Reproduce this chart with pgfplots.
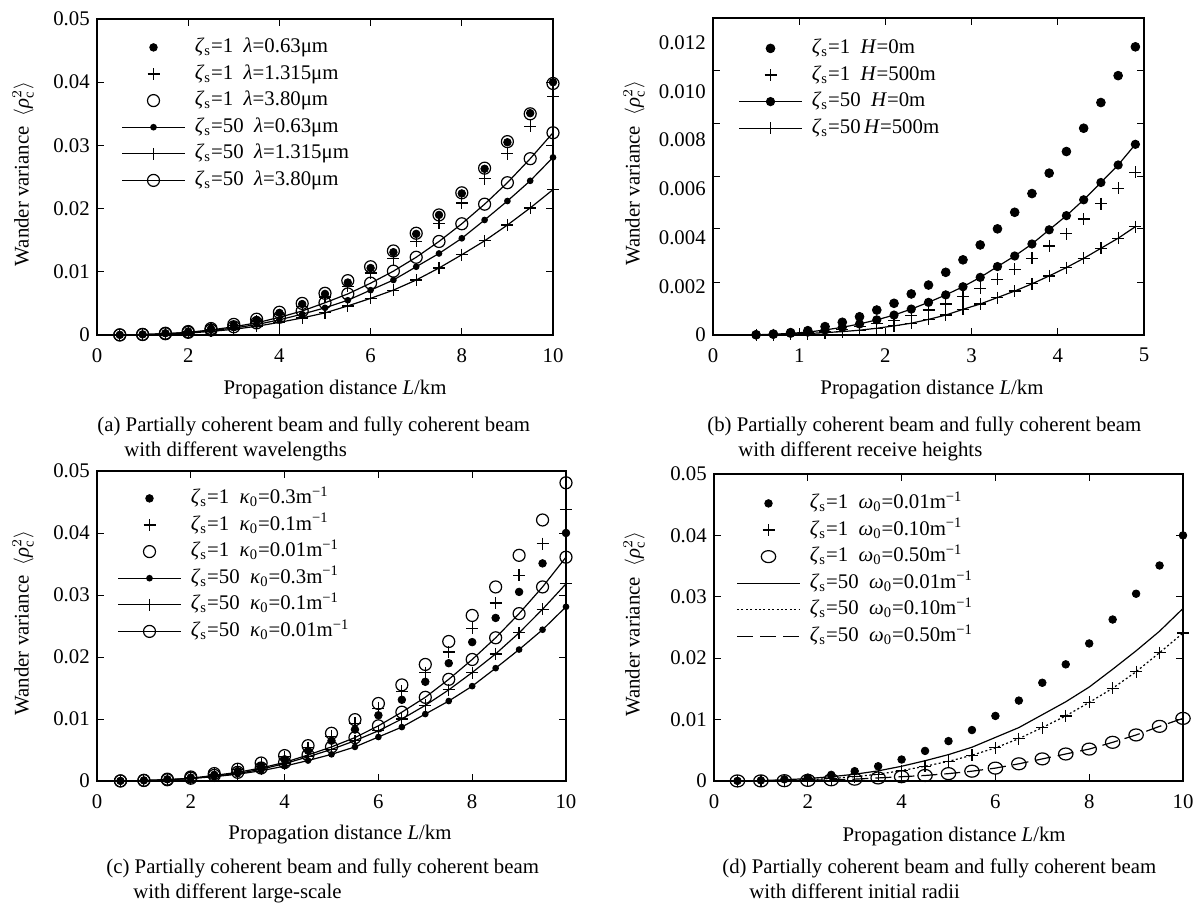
\documentclass[border=0pt]{standalone}
\usepackage{fontspec}
\setmainfont{Liberation Serif}
\usepackage{pgfplots}
\pgfplotsset{compat=1.18}
\usepackage{pgfplotstable}

\newcommand{\zs}{\textit{ζ}\textsubscript{s}}
\newcommand{\minv}{m\textsuperscript{−1}}

% (a) wavelengths: D = zeta 1 lambda 0.63, P13/C38 = zeta 1, L.. = zeta 50
\pgfplotstableread{
L    D        P13      C38      L63      L13      L38
0.5  0.00002  0.00002  0.00002  0.00001  0.00001  0.00001
1.0  0.00010  0.00009  0.00010  0.00007  0.00005  0.00007
1.5  0.00028  0.00025  0.00028  0.00020  0.00015  0.00020
2.0  0.00055  0.00050  0.00055  0.00040  0.00030  0.00042
2.5  0.00100  0.00090  0.00102  0.00070  0.00057  0.00080
3.0  0.00160  0.00150  0.00168  0.00110  0.00090  0.00130
3.5  0.00240  0.00222  0.00250  0.00165  0.00138  0.00192
4.0  0.00350  0.00320  0.00360  0.00240  0.00200  0.00280
4.5  0.00490  0.00450  0.00500  0.00330  0.00270  0.00380
5.0  0.00650  0.00600  0.00660  0.00430  0.00350  0.00510
5.5  0.00830  0.00770  0.00860  0.00550  0.00460  0.00650
6.0  0.01060  0.00980  0.01080  0.00710  0.00580  0.00820
6.5  0.01310  0.01210  0.01330  0.00870  0.00710  0.01010
7.0  0.01600  0.01480  0.01610  0.01080  0.00870  0.01230
7.5  0.01900  0.01770  0.01900  0.01290  0.01060  0.01480
8.0  0.02240  0.02090  0.02250  0.01530  0.01270  0.01760
8.5  0.02630  0.02470  0.02640  0.01820  0.01490  0.02070
9.0  0.03050  0.02870  0.03060  0.02120  0.01740  0.02410
9.5  0.03510  0.03300  0.03500  0.02440  0.02010  0.02790
10.0 0.04000  0.03780  0.03980  0.02810  0.02300  0.03200
}\tabA

% (b) receive heights
\pgfplotstableread{
L    H0s      H500s    H0l      H500l
0.5  0.00001  0.00001  0.00001  0.00001
0.7  0.00004  0.00002  0.00003  0.00002
0.9  0.00010  0.00005  0.00007  0.00004
1.1  0.00018  0.00010  0.00012  0.00006
1.3  0.00035  0.00016  0.00021  0.00010
1.5  0.00053  0.00024  0.00032  0.00014
1.7  0.00076  0.00034  0.00046  0.00020
1.9  0.00104  0.00047  0.00063  0.00028
2.1  0.00132  0.00062  0.00083  0.00038
2.3  0.00171  0.00080  0.00108  0.00049
2.5  0.00208  0.00104  0.00136  0.00065
2.7  0.00261  0.00129  0.00167  0.00083
2.9  0.00313  0.00160  0.00201  0.00107
3.1  0.00375  0.00194  0.00240  0.00129
3.3  0.00442  0.00232  0.00285  0.00156
3.5  0.00511  0.00274  0.00329  0.00183
3.7  0.00589  0.00319  0.00379  0.00213
3.9  0.00674  0.00371  0.00438  0.00246
4.1  0.00764  0.00421  0.00497  0.00281
4.3  0.00861  0.00483  0.00563  0.00319
4.5  0.00968  0.00546  0.00635  0.00361
4.7  0.01080  0.00611  0.00708  0.00403
4.9  0.01200  0.00678  0.00794  0.00451
}\tabB

% (c) large-scale kappa_0
\pgfplotstableread{
L    D        P01      C001     L03      L01      L001
0.5  0.00002  0.00002  0.00002  0.00001  0.00001  0.00001
1.0  0.00010  0.00010  0.00011  0.00007  0.00007  0.00008
1.5  0.00028  0.00028  0.00030  0.00020  0.00020  0.00020
2.0  0.00055  0.00060  0.00065  0.00040  0.00040  0.00045
2.5  0.00100  0.00110  0.00120  0.00070  0.00080  0.00090
3.0  0.00160  0.00180  0.00190  0.00110  0.00120  0.00140
3.5  0.00240  0.00270  0.00290  0.00165  0.00190  0.00210
4.0  0.00350  0.00390  0.00410  0.00240  0.00280  0.00300
4.5  0.00490  0.00540  0.00570  0.00330  0.00390  0.00420
5.0  0.00650  0.00720  0.00770  0.00430  0.00510  0.00550
5.5  0.00830  0.00930  0.00990  0.00550  0.00650  0.00700
6.0  0.01060  0.01170  0.01250  0.00710  0.00810  0.00890
6.5  0.01310  0.01450  0.01550  0.00870  0.01000  0.01110
7.0  0.01600  0.01750  0.01880  0.01080  0.01220  0.01350
7.5  0.01900  0.02080  0.02250  0.01290  0.01470  0.01640
8.0  0.02240  0.02460  0.02670  0.01530  0.01750  0.01960
8.5  0.02630  0.02870  0.03130  0.01820  0.02050  0.02310
9.0  0.03050  0.03320  0.03640  0.02120  0.02390  0.02700
9.5  0.03510  0.03830  0.04210  0.02440  0.02770  0.03130
10.0 0.04000  0.04380  0.04810  0.02810  0.03180  0.03610
}\tabC

% (d) initial radii
\pgfplotstableread{
L    D        W010     W050     L001
0.5  0.00002  0.00001  0.00001  0.00001
1.0  0.00010  0.00003  0.00002  0.00007
1.5  0.00028  0.00010  0.00005  0.00020
2.0  0.00055  0.00020  0.00010  0.00040
2.5  0.00100  0.00040  0.00020  0.00070
3.0  0.00160  0.00070  0.00030  0.00110
3.5  0.00240  0.00110  0.00050  0.00165
4.0  0.00350  0.00170  0.00070  0.00240
4.5  0.00490  0.00240  0.00090  0.00330
5.0  0.00650  0.00320  0.00120  0.00430
5.5  0.00830  0.00420  0.00160  0.00550
6.0  0.01060  0.00540  0.00210  0.00710
6.5  0.01310  0.00690  0.00280  0.00870
7.0  0.01600  0.00870  0.00360  0.01080
7.5  0.01900  0.01060  0.00440  0.01290
8.0  0.02240  0.01280  0.00520  0.01530
8.5  0.02630  0.01510  0.00630  0.01820
9.0  0.03050  0.01780  0.00750  0.02120
9.5  0.03510  0.02090  0.00890  0.02440
10.0 0.04000  0.02410  0.01020  0.02810
}\tabD

\pgfplotsset{
  panel/.style={
    scale only axis, anchor=south west,
    xmin=0, ymin=0,
    tick align=inside, major tick length=3.5pt,
    every tick/.style={black, line width=0.5pt},
    axis line style={line width=0.7pt},
    scaled ticks=false,
    xlabel={Propagation distance \textit{L}/km},
    ylabel={Wander variance\ \ $\langle$\textit{ρ}$^{2}_{\mathrm{c}}\rangle$},
    xticklabel style={yshift=-3pt},
    legend cell align=left,
    legend style={draw=none, fill=none, inner sep=0pt, row sep=0pt, column sep=3.5pt,
      nodes={inner sep=1.15pt, text height=8pt, text depth=3pt}},
  },
  leg/.style={legend image code/.code={\draw[mark repeat=2,mark phase=2,##1] plot coordinates {(0pt,0pt) (15.75pt,0pt) (31.5pt,0pt)};}},
  sdot/.style={black, only marks, mark=*, mark size=1.9pt, leg},
  splus/.style={black, only marks, mark=+, mark size=3pt, line width=0.6pt, leg},
  scirc/.style={black, only marks, mark=o, mark size=3pt, line width=0.6pt, leg},
  ldot/.style={black, line width=0.6pt, mark=*, mark size=1.35pt, leg},
  lplus/.style={black, line width=0.6pt, mark=+, mark size=3pt, leg},
  lcirc/.style={black, line width=0.6pt, mark=o, mark size=3pt, leg},
}

\begin{document}
\fontsize{10.4}{12.5}\selectfont
\begin{tikzpicture}
\path[use as bounding box] (0,0) rectangle (598pt,451pt);

% (a)
\begin{axis}[panel, at={(48.5pt,283.5pt)}, width=228pt, height=158pt,
  xmax=10, ymax=0.05,
  xtick={0,2,4,6,8,10}, xticklabels={0,2,4,6,8,10},
  ytick={0,0.01,0.02,0.03,0.04,0.05}, yticklabels={0,0.01,0.02,0.03,0.04,0.05},
  xlabel style={at={([yshift=-27.5pt]axis description cs:0.522,0)}, anchor=center},
  ylabel style={at={([xshift=-37pt]axis description cs:0,0.51)}, anchor=center},
  legend style={at={([xshift=12pt,yshift=-7.35pt]axis description cs:0,1)}, anchor=north west}]
\addplot[sdot] table[x=L,y=D]{\tabA};
\addlegendentry{\zs=1\enspace\textit{λ}=0.63μm}
\addplot[splus] table[x=L,y=P13]{\tabA};
\addlegendentry{\zs=1\enspace\textit{λ}=1.315μm}
\addplot[scirc] table[x=L,y=C38]{\tabA};
\addlegendentry{\zs=1\enspace\textit{λ}=3.80μm}
\addplot[ldot] table[x=L,y=L63]{\tabA};
\addlegendentry{\zs=50\enspace\textit{λ}=0.63μm}
\addplot[lplus] table[x=L,y=L13]{\tabA};
\addlegendentry{\zs=50\enspace\textit{λ}=1.315μm}
\addplot[lcirc] table[x=L,y=L38]{\tabA};
\addlegendentry{\zs=50\enspace\textit{λ}=3.80μm}
\end{axis}

% (b)
\begin{axis}[panel, at={(356.5pt,283.5pt)}, width=215.5pt, height=158.5pt,
  xmax=5, ymax=0.0132,
  xtick={0,1,2,3,4,5}, xticklabels={0,1,2,3,4,5},
  ytick={0.002167,0.004417,0.006583,0.008792,0.011}, yticklabels={{},{},{},{},{}},
  extra y ticks={0,0.002028,0.004056,0.006083,0.008111,0.010139,0.012167},
  extra y tick labels={0,0.002,0.004,0.006,0.008,0.010,0.012},
  extra y tick style={major tick length=0pt},
  xlabel style={at={([yshift=-27.5pt]axis description cs:0.508,0)}, anchor=center},
  ylabel style={at={([xshift=-39.5pt]axis description cs:0,0.51)}, anchor=center},
  legend style={at={([xshift=12.5pt,yshift=-8.35pt]axis description cs:0,1)}, anchor=north west}]
\addplot[sdot, mark size=2.2pt] table[x=L,y=H0s]{\tabB};
\addlegendentry{\zs=1\enspace\textit{H}=0m}
\addplot[splus] table[x=L,y=H500s]{\tabB};
\addlegendentry{\zs=1\enspace\textit{H}=500m}
\addplot[ldot, mark size=2pt] table[x=L,y=H0l]{\tabB};
\addlegendentry{\zs=50\enspace\textit{H}=0m}
\addplot[lplus] table[x=L,y=H500l]{\tabB};
\addlegendentry{\zs=50\,\textit{H}=500m}
\end{axis}

% (c)
\begin{axis}[panel, at={(48.5pt,60.5pt)}, width=234.5pt, height=155pt,
  xmax=10, ymax=0.05,
  xtick={0,2,4,6,8,10}, xticklabels={0,2,4,6,8,10},
  ytick={0,0.01,0.02,0.03,0.04,0.05}, yticklabels={0,0.01,0.02,0.03,0.04,0.05},
  xlabel style={at={([yshift=-27pt]axis description cs:0.518,0)}, anchor=center},
  ylabel style={at={([xshift=-37pt]axis description cs:0,0.51)}, anchor=center},
  legend style={at={([xshift=10pt,yshift=-6.85pt]axis description cs:0,1)}, anchor=north west}]
\addplot[sdot] table[x=L,y=D]{\tabC};
\addlegendentry{\zs=1\enspace\textit{κ}\textsubscript{0}=0.3\minv}
\addplot[splus] table[x=L,y=P01]{\tabC};
\addlegendentry{\zs=1\enspace\textit{κ}\textsubscript{0}=0.1\minv}
\addplot[scirc] table[x=L,y=C001]{\tabC};
\addlegendentry{\zs=1\enspace\textit{κ}\textsubscript{0}=0.01\minv}
\addplot[ldot] table[x=L,y=L03]{\tabC};
\addlegendentry{\zs=50\enspace\textit{κ}\textsubscript{0}=0.3\minv}
\addplot[lplus] table[x=L,y=L01]{\tabC};
\addlegendentry{\zs=50\enspace\textit{κ}\textsubscript{0}=0.1\minv}
\addplot[lcirc] table[x=L,y=L001]{\tabC};
\addlegendentry{\zs=50\enspace\textit{κ}\textsubscript{0}=0.01\minv}
\end{axis}

% (d)
\begin{axis}[panel, at={(357pt,60.5pt)}, width=234.5pt, height=153.5pt,
  xmax=10, ymax=0.05,
  xtick={0,2,4,6,8,10}, xticklabels={0,2,4,6,8,10},
  ytick={0,0.01,0.02,0.03,0.04,0.05}, yticklabels={0,0.01,0.02,0.03,0.04,0.05},
  xlabel style={at={([yshift=-28pt]axis description cs:0.512,0)}, anchor=center},
  ylabel style={at={([xshift=-40pt]axis description cs:0,0.51)}, anchor=center},
  legend style={at={([xshift=11pt,yshift=-7.85pt]axis description cs:0,1)}, anchor=north west}]
\addplot[sdot] table[x=L,y=D]{\tabD};
\addlegendentry{\zs=1\enspace\textit{ω}\textsubscript{0}=0.01\minv}
\addplot[splus] table[x=L,y=W010]{\tabD};
\addlegendentry{\zs=1\enspace\textit{ω}\textsubscript{0}=0.10\minv}
\addplot[scirc, mark options={xscale=1.2}] table[x=L,y=W050]{\tabD};
\addlegendentry{\zs=1\enspace\textit{ω}\textsubscript{0}=0.50\minv}
\addplot[black, line width=0.6pt, leg] table[x=L,y=L001]{\tabD};
\addlegendentry{\zs=50\enspace\textit{ω}\textsubscript{0}=0.01\minv}
\addplot[black, line width=0.6pt, dash pattern=on 1pt off 1.2pt, leg] table[x=L,y=W010]{\tabD};
\addlegendentry{\zs=50\enspace\textit{ω}\textsubscript{0}=0.10\minv}
\addplot[black, line width=0.6pt, dash pattern=on 8pt off 3.5pt, leg] table[x=L,y=W050]{\tabD};
\addlegendentry{\zs=50\enspace\textit{ω}\textsubscript{0}=0.50\minv}
\end{axis}

% captions
\node[anchor=base west, inner sep=0pt] at (48.5pt,235.5pt) {(a) Partially coherent beam and fully coherent beam};
\node[anchor=base west, inner sep=0pt] at (62pt,223pt) {with different wavelengths};
\node[anchor=base west, inner sep=0pt] at (353.5pt,235.5pt) {(b) Partially coherent beam and fully coherent beam};
\node[anchor=base west, inner sep=0pt] at (369pt,223pt) {with different receive heights};
\node[anchor=base west, inner sep=0pt] at (53pt,14.5pt) {(c) Partially coherent beam and fully coherent beam};
\node[anchor=base west, inner sep=0pt] at (66.5pt,2pt) {with different large-scale};
\node[anchor=base west, inner sep=0pt] at (361pt,14.5pt) {(d) Partially coherent beam and fully coherent beam};
\node[anchor=base west, inner sep=0pt] at (374.5pt,2pt) {with different initial radii};
\end{tikzpicture}
\end{document}
